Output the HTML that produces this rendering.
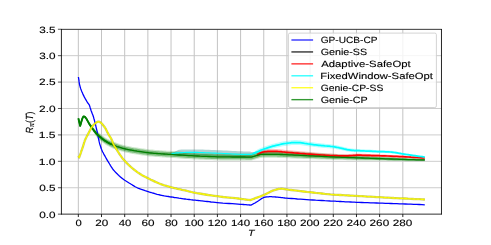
<!DOCTYPE html>
<html><head><meta charset="utf-8"><style>html,body{margin:0;padding:0;background:#fff}body{width:491px;height:245px;overflow:hidden}</style></head><body><svg width="491" height="245" viewBox="0 0 491 245" style="display:block">
<defs><filter id="gs" x="-5%" y="-5%" width="110%" height="110%" color-interpolation-filters="sRGB"><feColorMatrix type="saturate" values="0"/></filter></defs>
<rect width="491" height="245" fill="#fff"/>
<path d="M78.33 29.4 V214.15 M101.51 29.4 V214.15 M124.69 29.4 V214.15 M147.86 29.4 V214.15 M171.04 29.4 V214.15 M194.22 29.4 V214.15 M217.40 29.4 V214.15 M240.58 29.4 V214.15 M263.75 29.4 V214.15 M286.93 29.4 V214.15 M310.11 29.4 V214.15 M333.29 29.4 V214.15 M356.47 29.4 V214.15 M379.64 29.4 V214.15 M402.82 29.4 V214.15" stroke="#c3c3c3" stroke-width="1.0" fill="none"/>
<path d="M61.42 214.15 H441.47 M61.42 187.74 H441.47 M61.42 161.32 H441.47 M61.42 134.91 H441.47 M61.42 108.49 H441.47 M61.42 82.08 H441.47 M61.42 55.66 H441.47 M61.42 29.25 H441.47" stroke="#c6c6c6" stroke-width="0.9" fill="none"/>
<clipPath id="c"><rect x="61.42" y="29.4" width="380.05" height="184.75"/></clipPath>
<g clip-path="url(#c)" fill="none" stroke-linejoin="round" stroke-linecap="butt">
<polygon points="257.0,152.9 257.3,152.7 257.6,152.5 257.9,152.2 258.2,152.0 258.5,151.8 258.8,151.6 259.1,151.4 259.5,151.2 259.9,151.0 260.4,150.7 260.9,150.5 261.4,150.3 261.9,150.1 262.4,149.9 263.0,149.7 263.7,149.6 264.9,149.4 266.3,149.3 267.9,149.1 269.5,149.1 271.2,149.1 272.8,149.1 274.5,149.1 276.0,149.1 277.3,149.1 278.6,149.2 279.9,149.3 281.1,149.4 282.4,149.6 283.8,149.7 285.2,149.9 286.7,150.0 289.2,150.2 291.9,150.4 294.7,150.7 297.7,150.9 300.8,151.2 303.9,151.5 306.9,151.8 309.9,152.0 312.9,152.3 316.0,152.5 319.1,152.7 322.1,153.0 325.2,153.2 328.1,153.4 330.8,153.6 333.4,153.7 335.1,153.8 336.6,153.9 338.1,154.0 339.5,154.0 340.9,154.1 342.3,154.1 343.7,154.1 345.1,154.1 346.5,154.1 348.0,154.1 349.4,154.0 350.8,153.9 352.2,153.8 353.6,153.7 355.1,153.7 356.5,153.6 358.0,153.6 359.5,153.6 361.0,153.7 362.5,153.7 364.0,153.8 365.5,153.8 367.0,153.9 368.5,153.9 369.9,154.0 371.2,154.0 372.5,154.1 373.8,154.1 375.2,154.2 376.6,154.2 378.0,154.3 379.6,154.4 382.1,154.5 384.8,154.6 387.6,154.8 390.6,154.9 393.6,155.1 396.7,155.3 399.7,155.4 402.6,155.6 405.4,155.8 408.2,156.0 411.0,156.2 413.7,156.4 416.5,156.6 419.3,156.8 422.0,157.0 424.8,157.2 424.8,158.8 422.0,158.7 419.3,158.5 416.5,158.4 413.7,158.3 411.0,158.1 408.2,158.0 405.4,157.9 402.6,157.8 399.7,157.7 396.7,157.6 393.6,157.5 390.6,157.4 387.6,157.3 384.8,157.2 382.1,157.1 379.6,157.0 378.0,157.0 376.6,157.0 375.2,157.0 373.8,156.9 372.5,156.9 371.2,156.9 369.9,156.9 368.5,156.9 367.0,156.9 365.5,156.8 364.0,156.8 362.5,156.8 361.0,156.8 359.5,156.8 358.0,156.8 356.5,156.9 355.1,156.9 353.6,157.0 352.2,157.2 350.8,157.3 349.4,157.4 348.0,157.5 346.5,157.6 345.1,157.7 343.7,157.7 342.3,157.7 340.9,157.7 339.5,157.7 338.1,157.6 336.6,157.6 335.1,157.6 333.4,157.5 330.8,157.4 328.1,157.3 325.2,157.2 322.1,157.0 319.1,156.9 316.0,156.7 312.9,156.6 309.9,156.4 306.9,156.2 303.9,156.0 300.8,155.8 297.7,155.5 294.7,155.3 291.9,155.0 289.2,154.8 286.7,154.6 285.2,154.5 283.8,154.3 282.4,154.2 281.1,154.0 279.9,153.9 278.6,153.8 277.3,153.7 276.0,153.7 274.5,153.7 272.8,153.7 271.2,153.7 269.5,153.7 267.9,153.7 266.3,153.9 264.9,154.0 263.7,154.2 263.0,154.3 262.4,154.5 261.9,154.7 261.4,154.9 260.9,155.1 260.4,155.3 259.9,155.6 259.5,155.8 259.1,156.0 258.8,156.2 258.5,156.4 258.2,156.6 257.9,156.8 257.6,157.1 257.3,157.3 257.0,157.5" fill="#ff0000" fill-opacity="0.25" stroke="none"/>
<polygon points="171.4,153.4 171.8,153.2 172.3,153.0 172.7,152.8 173.1,152.6 173.5,152.3 174.0,152.1 174.5,151.9 175.0,151.6 175.9,151.2 176.8,150.7 177.8,150.3 178.9,149.8 180.0,149.7 181.1,149.6 182.3,149.6 183.4,149.5 184.7,149.5 185.9,149.4 187.2,149.4 188.6,149.4 189.9,149.4 191.3,149.4 192.8,149.4 194.4,149.4 196.9,149.4 199.6,149.5 202.5,149.6 205.5,149.7 208.6,149.8 211.7,150.0 214.7,150.1 217.7,150.2 220.6,150.3 223.6,150.5 226.6,150.6 229.6,150.8 232.6,151.0 235.4,151.1 238.1,151.2 240.5,151.3 242.0,151.3 243.5,151.4 244.8,151.4 246.1,151.4 247.4,151.4 248.7,151.4 250.0,151.4 251.3,152.0 252.8,152.0 254.4,152.0 255.9,151.9 255.9,152.8 254.4,154.2 252.8,155.5 251.3,156.8 250.0,157.4 248.7,157.4 247.4,157.4 246.1,157.4 244.8,157.4 243.5,157.4 242.0,157.3 240.5,157.3 238.1,157.2 235.4,157.1 232.6,157.0 229.6,156.8 226.6,156.6 223.6,156.5 220.6,156.3 217.7,156.2 214.7,156.1 211.7,156.0 208.6,155.8 205.5,155.7 202.5,155.6 199.6,155.5 196.9,155.4 194.4,155.4 192.8,155.4 191.3,155.4 189.9,155.4 188.6,155.4 187.2,155.4 185.9,155.4 184.7,155.5 183.4,155.5 182.3,155.6 181.1,155.6 180.0,155.7 178.9,155.7 177.8,155.4 176.8,155.1 175.9,154.8 175.0,154.6 174.5,154.5 174.0,154.3 173.5,154.2 173.1,154.1 172.7,154.0 172.3,153.9 171.8,153.9 171.4,153.8" fill="#308888" fill-opacity="0.38" stroke="none"/>
<polygon points="251.3,154.0 252.8,152.9 254.4,151.8 255.9,150.6 257.5,149.5 259.0,148.7 260.6,148.0 262.1,147.4 263.7,146.8 265.2,146.3 266.8,145.7 268.3,145.2 269.9,144.7 271.4,144.3 273.0,143.8 274.5,143.4 276.0,143.0 277.4,142.7 278.7,142.4 280.1,142.1 281.4,141.8 282.7,141.5 284.1,141.3 285.4,141.1 286.7,140.9 288.0,140.7 289.2,140.6 290.5,140.4 291.7,140.3 293.0,140.2 294.3,140.1 295.6,140.1 296.9,140.1 298.5,140.2 300.1,140.3 301.7,140.6 303.3,140.8 305.0,141.1 306.7,141.4 308.3,141.7 309.9,141.9 311.4,142.1 312.9,142.3 314.4,142.5 315.8,142.7 317.3,142.9 318.8,143.1 320.2,143.3 321.7,143.5 323.2,143.6 324.7,143.8 326.2,143.9 327.7,144.1 329.2,144.2 330.6,144.3 332.0,144.5 333.4,144.7 334.5,144.9 335.6,145.1 336.7,145.3 337.7,145.6 338.7,145.8 339.7,146.1 340.8,146.3 341.8,146.5 342.9,146.8 343.9,147.0 345.0,147.3 346.1,147.5 347.1,147.7 348.2,148.0 349.2,148.2 350.2,148.3 351.0,148.4 351.8,148.5 352.5,148.6 353.3,148.7 354.0,148.7 354.8,148.8 355.6,148.8 356.5,148.9 357.8,149.0 359.2,149.1 360.7,149.2 362.3,149.2 363.9,149.3 365.4,149.4 367.0,149.5 368.5,149.6 369.9,149.6 371.3,149.7 372.7,149.8 374.0,149.9 375.4,150.0 376.8,150.0 378.2,150.1 379.6,150.2 381.1,150.3 382.6,150.3 384.1,150.4 385.7,150.4 387.2,150.5 388.7,150.6 390.2,150.7 391.7,150.8 393.1,151.0 394.5,151.2 395.8,151.5 397.2,151.7 398.5,152.0 399.9,152.3 401.2,152.5 402.6,152.8 404.0,153.0 405.3,153.2 406.7,153.4 408.0,153.7 409.4,153.9 410.8,154.1 412.1,154.3 413.5,154.5 414.9,154.7 416.3,155.0 417.7,155.2 419.1,155.4 420.6,155.6 422.0,155.8 423.4,156.0 424.8,156.3 424.8,157.9 423.4,157.8 422.0,157.6 420.6,157.4 419.1,157.2 417.7,157.0 416.3,156.9 414.9,156.7 413.5,156.5 412.1,156.3 410.8,156.1 409.4,155.9 408.0,155.8 406.7,155.6 405.3,155.4 404.0,155.2 402.6,155.0 401.2,154.8 399.9,154.6 398.5,154.4 397.2,154.1 395.8,153.9 394.5,153.7 393.1,153.5 391.7,153.4 390.2,153.2 388.7,153.2 387.2,153.1 385.7,153.1 384.1,153.1 382.6,153.1 381.1,153.0 379.6,153.0 378.2,153.0 376.8,152.9 375.4,152.9 374.0,152.8 372.7,152.8 371.3,152.7 369.9,152.7 368.5,152.6 367.0,152.6 365.4,152.6 363.9,152.5 362.3,152.5 360.7,152.4 359.2,152.4 357.8,152.4 356.5,152.3 355.6,152.3 354.8,152.2 354.0,152.2 353.3,152.1 352.5,152.1 351.8,152.0 351.0,152.0 350.2,151.9 349.2,151.7 348.2,151.6 347.1,151.4 346.1,151.2 345.0,150.9 343.9,150.7 342.9,150.5 341.8,150.3 340.8,150.1 339.7,149.9 338.7,149.6 337.7,149.4 336.7,149.2 335.6,149.0 334.5,148.8 333.4,148.7 332.0,148.5 330.6,148.4 329.2,148.3 327.7,148.2 326.2,148.1 324.7,148.0 323.2,147.9 321.7,147.7 320.2,147.6 318.8,147.4 317.3,147.3 315.8,147.1 314.4,147.0 312.9,146.8 311.4,146.6 309.9,146.5 308.3,146.3 306.7,146.0 305.0,145.8 303.3,145.6 301.7,145.3 300.1,145.1 298.5,145.0 296.9,144.9 295.6,144.9 294.3,144.9 293.0,145.0 291.7,145.1 290.5,145.2 289.2,145.4 288.0,145.5 286.7,145.7 285.4,145.9 284.1,146.1 282.7,146.3 281.4,146.6 280.1,146.9 278.7,147.2 277.4,147.5 276.0,147.8 274.5,148.2 273.0,148.6 271.4,149.1 269.9,149.5 268.3,150.0 266.8,150.5 265.2,151.1 263.7,151.6 262.1,152.2 260.6,152.8 259.0,153.5 257.5,154.0 255.9,154.2 254.4,154.4 252.8,154.6 251.3,154.8" fill="#00ffff" fill-opacity="0.28" stroke="none"/>
<polygon points="78.4,118.2 80.1,125.7 80.6,124.4 81.0,122.9 81.4,121.4 81.9,119.8 82.3,118.5 82.8,117.3 83.3,116.5 83.9,116.2 84.6,116.3 85.3,116.8 86.1,117.6 86.9,118.7 87.7,120.0 88.5,121.3 89.3,122.5 90.1,123.5 90.8,124.3 91.6,125.2 92.3,126.1 93.1,127.0 93.8,127.8 94.6,128.6 95.3,129.4 96.0,130.1 96.5,130.5 97.1,131.0 97.6,131.4 98.2,131.8 98.7,132.3 99.2,132.8 99.8,133.2 100.3,133.7 100.8,134.1 101.4,134.6 101.9,135.0 102.4,135.4 103.0,135.8 103.5,136.2 104.0,136.6 104.6,137.0 105.1,137.4 105.7,137.7 106.2,138.0 106.8,138.4 107.3,138.7 107.9,139.0 108.4,139.3 109.0,139.6 109.5,139.9 110.0,140.1 110.5,140.4 111.1,140.6 111.6,140.9 112.1,141.1 112.6,141.4 113.2,141.6 113.8,141.9 114.5,142.1 115.1,142.3 115.8,142.6 116.5,142.8 117.1,143.1 117.8,143.3 118.5,143.5 119.2,143.7 119.9,144.0 120.7,144.2 121.4,144.4 122.1,144.6 122.8,144.8 123.6,145.0 124.3,145.2 125.0,145.4 125.7,145.5 126.4,145.7 127.1,145.8 127.8,146.0 128.5,146.1 129.3,146.3 130.0,146.4 130.8,146.6 131.7,146.7 132.5,146.9 133.4,147.0 134.2,147.2 135.1,147.3 136.0,147.4 137.0,147.6 138.3,147.8 139.6,148.0 140.9,148.2 142.3,148.4 143.7,148.6 145.2,148.8 146.6,149.0 148.0,149.2 149.5,149.4 151.0,149.5 152.5,149.6 154.0,149.8 155.5,149.9 157.0,150.0 158.5,150.1 160.0,150.2 161.4,150.3 162.8,150.4 164.1,150.5 165.5,150.6 166.8,150.7 168.3,150.8 169.8,150.8 171.4,150.9 173.9,151.1 176.6,151.3 179.4,151.5 182.4,151.7 185.4,151.9 188.5,152.1 191.5,152.2 194.4,152.4 197.3,152.5 200.2,152.7 203.1,152.8 206.1,152.9 209.0,153.0 211.9,153.1 214.8,153.2 217.7,153.3 220.6,153.4 223.6,153.4 226.6,153.4 229.6,153.4 232.6,153.5 235.4,153.5 238.1,153.5 240.5,153.5 242.0,153.5 243.5,153.5 244.8,153.5 246.1,153.6 247.4,153.6 248.7,153.6 250.0,153.6 251.3,153.6 260.5,150.9 260.9,150.9 261.3,150.9 261.6,150.9 262.0,150.8 262.4,150.8 262.8,150.8 263.2,150.8 263.7,150.8 264.8,150.8 266.0,150.8 267.4,150.8 268.9,150.8 270.4,150.8 272.0,150.8 273.5,150.8 275.0,150.8 276.4,150.8 277.8,150.9 279.2,150.9 280.6,151.0 282.0,151.0 283.5,151.1 285.0,151.1 286.7,151.2 289.2,151.3 291.9,151.4 294.8,151.6 297.8,151.7 300.8,151.9 303.9,152.1 306.9,152.3 309.9,152.5 312.8,152.7 315.8,152.9 318.7,153.1 321.7,153.3 324.6,153.5 327.5,153.7 330.5,153.8 333.4,154.0 336.3,154.2 339.2,154.4 342.1,154.5 345.0,154.7 347.8,154.8 350.7,155.0 353.6,155.1 356.5,155.3 359.4,155.4 362.3,155.6 365.2,155.7 368.1,155.8 370.9,156.0 373.8,156.1 376.7,156.3 379.6,156.4 382.5,156.6 385.4,156.7 388.2,156.9 391.1,157.1 394.0,157.2 396.9,157.4 399.7,157.5 402.6,157.7 405.4,157.8 408.2,157.9 411.0,158.0 413.7,158.1 416.5,158.3 419.3,158.4 422.0,158.5 424.8,158.6 424.8,161.3 422.0,161.3 419.3,161.3 416.5,161.3 413.7,161.2 411.0,161.2 408.2,161.2 405.4,161.2 402.6,161.1 399.7,161.1 396.9,161.0 394.0,161.0 391.1,160.9 388.2,160.9 385.4,160.8 382.5,160.7 379.6,160.7 376.7,160.6 373.8,160.6 370.9,160.5 368.1,160.5 365.2,160.5 362.3,160.4 359.4,160.4 356.5,160.3 353.6,160.3 350.7,160.2 347.8,160.2 345.0,160.1 342.1,160.1 339.2,160.0 336.3,159.9 333.4,159.9 330.5,159.8 327.5,159.7 324.6,159.6 321.7,159.5 318.7,159.4 315.8,159.3 312.8,159.2 309.9,159.1 306.9,159.0 303.9,158.9 300.8,158.8 297.8,158.7 294.8,158.6 291.9,158.4 289.2,158.3 286.7,158.2 285.0,158.1 283.5,158.1 282.0,158.0 280.6,158.0 279.2,157.9 277.8,157.9 276.4,157.8 275.0,157.8 273.5,157.8 272.0,157.8 270.4,157.8 268.9,157.8 267.4,157.8 266.0,157.8 264.8,157.8 263.7,157.8 263.2,157.8 262.8,157.8 262.4,157.8 262.0,157.8 261.6,157.9 261.3,157.9 260.9,157.9 260.5,157.9 251.3,160.6 250.0,160.6 248.7,160.6 247.4,160.6 246.1,160.6 244.8,160.5 243.5,160.5 242.0,160.5 240.5,160.5 238.1,160.5 235.4,160.5 232.6,160.5 229.6,160.4 226.6,160.4 223.6,160.4 220.6,160.4 217.7,160.3 214.8,160.2 211.9,160.1 209.0,160.0 206.1,159.9 203.1,159.8 200.2,159.7 197.3,159.5 194.4,159.4 191.5,159.2 188.5,159.1 185.4,158.9 182.4,158.7 179.4,158.5 176.6,158.3 173.9,158.1 171.4,157.9 169.8,157.8 168.3,157.8 166.8,157.7 165.5,157.6 164.1,157.5 162.8,157.4 161.4,157.3 160.0,157.2 158.5,157.1 157.0,157.0 155.5,156.9 154.0,156.8 152.5,156.6 151.0,156.5 149.5,156.4 148.0,156.2 146.6,156.0 145.2,155.8 143.7,155.6 142.3,155.4 140.9,155.2 139.6,155.0 138.3,154.8 137.0,154.6 136.0,154.4 135.1,154.3 134.2,154.2 133.4,154.0 132.5,153.9 131.7,153.7 130.8,153.6 130.0,153.4 129.3,153.3 128.5,153.1 127.8,153.0 127.1,152.8 126.4,152.7 125.7,152.5 125.0,152.4 124.3,152.2 123.6,152.0 122.8,151.8 122.1,151.6 121.4,151.4 120.7,151.2 119.9,151.0 119.2,150.7 118.5,150.5 117.8,150.3 117.1,150.1 116.5,149.8 115.8,149.6 115.1,149.3 114.5,149.1 113.8,148.9 113.2,148.6 112.6,148.4 112.1,148.1 111.6,147.9 111.1,147.6 110.5,147.4 110.0,147.1 109.5,146.9 109.0,146.6 108.4,146.3 107.9,146.0 107.3,145.7 106.8,145.4 106.2,145.0 105.7,144.7 105.1,144.4 104.6,144.0 104.0,143.6 103.5,143.2 103.0,142.8 102.4,142.4 101.9,142.0 101.4,141.6 100.8,141.1 100.3,140.7 99.8,140.2 99.2,139.8 98.7,139.3 98.2,138.8 97.6,138.2 97.1,137.6 96.5,136.9 96.0,136.1 95.3,135.1 94.6,134.0 93.8,132.9 93.1,131.7 92.3,130.4 91.6,129.2 90.8,128.0 90.1,126.7 89.3,125.4 88.5,123.8 87.7,122.1 86.9,120.5 86.1,119.0 85.3,117.8 84.6,116.9 83.9,116.6 83.3,116.9 82.8,117.7 82.3,118.9 81.9,120.2 81.4,121.8 81.0,123.3 80.6,124.8 80.1,126.1 78.4,118.6" fill="#008000" fill-opacity="0.2" stroke="none"/>
<polygon points="78.4,118.2 80.1,125.7 80.6,124.4 81.0,122.9 81.4,121.4 81.9,119.8 82.3,118.5 82.8,117.3 83.3,116.5 83.9,116.2 84.6,116.3 85.3,116.9 86.1,117.8 86.9,119.0 87.7,120.3 88.5,121.6 89.3,122.9 90.1,124.0 90.8,124.9 91.6,125.9 92.3,126.8 93.1,127.8 93.8,128.7 94.6,129.5 95.3,130.4 96.0,131.1 96.5,131.6 97.1,132.1 97.6,132.6 98.2,133.0 98.7,133.5 99.2,134.0 99.8,134.4 100.3,134.9 100.8,135.3 101.4,135.8 101.9,136.2 102.4,136.6 103.0,137.0 103.5,137.4 104.0,137.8 104.6,138.2 105.1,138.6 105.7,138.9 106.2,139.2 106.8,139.6 107.3,139.9 107.9,140.2 108.4,140.5 109.0,140.8 109.5,141.1 110.0,141.3 110.5,141.6 111.1,141.8 111.6,142.1 112.1,142.3 112.6,142.6 113.2,142.8 113.8,143.1 114.5,143.3 115.1,143.5 115.8,143.8 116.5,144.0 117.1,144.3 117.8,144.5 118.5,144.7 119.2,144.9 119.9,145.2 120.7,145.4 121.4,145.6 122.1,145.8 122.8,146.0 123.6,146.2 124.3,146.4 125.0,146.6 125.7,146.7 126.4,146.9 127.1,147.0 127.8,147.2 128.5,147.3 129.3,147.5 130.0,147.6 130.8,147.8 131.7,147.9 132.5,148.1 133.4,148.2 134.2,148.4 135.1,148.5 136.0,148.6 137.0,148.8 138.3,149.0 139.6,149.2 140.9,149.4 142.3,149.6 143.7,149.8 145.2,150.0 146.6,150.2 148.0,150.4 149.5,150.6 151.0,150.7 152.5,150.8 154.0,151.0 155.5,151.1 157.0,151.2 158.5,151.3 160.0,151.4 161.4,151.5 162.8,151.6 164.1,151.7 165.5,151.8 166.8,151.9 168.3,152.0 169.8,152.0 171.4,152.1 173.9,152.3 176.6,152.5 179.4,152.7 182.4,152.9 185.4,153.1 188.5,153.3 191.5,153.4 194.4,153.6 197.3,153.7 200.2,153.9 203.1,154.0 206.1,154.1 209.0,154.2 211.9,154.3 214.8,154.4 217.7,154.5 220.6,154.6 223.6,154.6 226.6,154.6 229.6,154.6 232.6,154.7 235.4,154.7 238.1,154.7 240.5,154.7 242.0,154.7 243.5,154.7 244.8,154.7 246.1,154.8 247.4,154.8 248.7,154.8 250.0,154.8 251.3,154.8 260.5,152.1 260.9,152.1 261.3,152.1 261.6,152.1 262.0,152.0 262.4,152.0 262.8,152.0 263.2,152.0 263.7,152.0 264.8,152.0 266.0,152.0 267.4,152.0 268.9,152.0 270.4,152.0 272.0,152.0 273.5,152.0 275.0,152.0 276.4,152.0 277.8,152.1 279.2,152.1 280.6,152.2 282.0,152.2 283.5,152.3 285.0,152.3 286.7,152.4 289.2,152.5 291.9,152.6 294.8,152.8 297.8,152.9 300.8,153.1 303.9,153.2 306.9,153.4 309.9,153.6 312.8,153.8 315.8,154.0 318.7,154.1 321.7,154.3 324.6,154.5 327.5,154.7 330.5,154.9 333.4,155.0 336.3,155.2 339.2,155.3 342.1,155.5 345.0,155.6 347.8,155.7 350.7,155.9 353.6,156.0 356.5,156.1 359.4,156.2 362.3,156.4 365.2,156.5 368.1,156.6 370.9,156.7 373.8,156.9 376.7,157.0 379.6,157.1 382.5,157.3 385.4,157.4 388.2,157.5 391.1,157.7 394.0,157.8 396.9,158.0 399.7,158.1 402.6,158.2 405.4,158.3 408.2,158.4 411.0,158.5 413.7,158.6 416.5,158.7 419.3,158.8 422.0,158.9 424.8,159.0 424.8,160.9 422.0,160.9 419.3,160.8 416.5,160.8 413.7,160.8 411.0,160.7 408.2,160.7 405.4,160.6 402.6,160.6 399.7,160.5 396.9,160.4 394.0,160.4 391.1,160.3 388.2,160.2 385.4,160.1 382.5,160.1 379.6,160.0 376.7,159.9 373.8,159.9 370.9,159.8 368.1,159.7 365.2,159.7 362.3,159.6 359.4,159.5 356.5,159.5 353.6,159.4 350.7,159.3 347.8,159.3 345.0,159.2 342.1,159.1 339.2,159.1 336.3,159.0 333.4,158.9 330.5,158.8 327.5,158.7 324.6,158.6 321.7,158.5 318.7,158.3 315.8,158.2 312.8,158.1 309.9,158.0 306.9,157.9 303.9,157.8 300.8,157.6 297.8,157.5 294.8,157.4 291.9,157.2 289.2,157.1 286.7,157.0 285.0,156.9 283.5,156.9 282.0,156.8 280.6,156.8 279.2,156.7 277.8,156.7 276.4,156.6 275.0,156.6 273.5,156.6 272.0,156.6 270.4,156.6 268.9,156.6 267.4,156.6 266.0,156.6 264.8,156.6 263.7,156.6 263.2,156.6 262.8,156.6 262.4,156.6 262.0,156.6 261.6,156.7 261.3,156.7 260.9,156.7 260.5,156.7 251.3,159.4 250.0,159.4 248.7,159.4 247.4,159.4 246.1,159.4 244.8,159.3 243.5,159.3 242.0,159.3 240.5,159.3 238.1,159.3 235.4,159.3 232.6,159.3 229.6,159.2 226.6,159.2 223.6,159.2 220.6,159.2 217.7,159.1 214.8,159.0 211.9,158.9 209.0,158.8 206.1,158.7 203.1,158.6 200.2,158.5 197.3,158.3 194.4,158.2 191.5,158.0 188.5,157.9 185.4,157.7 182.4,157.5 179.4,157.3 176.6,157.1 173.9,156.9 171.4,156.8 169.8,156.6 168.3,156.6 166.8,156.5 165.5,156.4 164.1,156.3 162.8,156.2 161.4,156.1 160.0,156.0 158.5,155.9 157.0,155.8 155.5,155.7 154.0,155.6 152.5,155.4 151.0,155.3 149.5,155.2 148.0,155.0 146.6,154.8 145.2,154.6 143.7,154.4 142.3,154.2 140.9,154.0 139.6,153.8 138.3,153.6 137.0,153.4 136.0,153.2 135.1,153.1 134.2,153.0 133.4,152.8 132.5,152.7 131.7,152.5 130.8,152.4 130.0,152.2 129.3,152.1 128.5,151.9 127.8,151.8 127.1,151.6 126.4,151.5 125.7,151.3 125.0,151.2 124.3,151.0 123.6,150.8 122.8,150.6 122.1,150.4 121.4,150.2 120.7,150.0 119.9,149.8 119.2,149.5 118.5,149.3 117.8,149.1 117.1,148.9 116.5,148.6 115.8,148.4 115.1,148.1 114.5,147.9 113.8,147.7 113.2,147.4 112.6,147.2 112.1,146.9 111.6,146.7 111.1,146.4 110.5,146.2 110.0,145.9 109.5,145.7 109.0,145.4 108.4,145.1 107.9,144.8 107.3,144.5 106.8,144.2 106.2,143.8 105.7,143.5 105.1,143.2 104.6,142.8 104.0,142.4 103.5,142.0 103.0,141.6 102.4,141.2 101.9,140.8 101.4,140.4 100.8,139.9 100.3,139.5 99.8,139.0 99.2,138.6 98.7,138.1 98.2,137.6 97.6,137.0 97.1,136.4 96.5,135.8 96.0,135.1 95.3,134.1 94.6,133.1 93.8,132.0 93.1,130.9 92.3,129.7 91.6,128.5 90.8,127.4 90.1,126.2 89.3,124.9 88.5,123.4 87.7,121.8 86.9,120.2 86.1,118.8 85.3,117.7 84.6,116.9 83.9,116.6 83.3,116.9 82.8,117.7 82.3,118.9 81.9,120.2 81.4,121.8 81.0,123.3 80.6,124.8 80.1,126.1 78.4,118.6" fill="#008000" fill-opacity="0.4" stroke="none"/>
<polyline points="78.4,77.0 78.6,78.2 78.8,79.4 79.0,80.7 79.1,81.9 79.3,83.1 79.5,84.3 79.8,85.5 80.1,86.7 80.4,87.8 80.8,88.9 81.2,89.9 81.6,91.0 82.0,92.0 82.5,93.1 82.9,94.1 83.4,95.1 83.9,96.1 84.4,97.1 85.0,98.2 85.5,99.2 86.1,100.1 86.6,101.0 87.1,101.9 87.6,102.6 87.8,103.0 88.1,103.3 88.3,103.6 88.5,103.8 88.7,104.1 88.9,104.4 89.1,104.7 89.3,105.0 89.5,105.5 89.7,106.1 89.9,106.7 90.1,107.4 90.3,108.0 90.5,108.7 90.7,109.4 90.9,110.1 91.2,110.9 91.5,111.6 91.8,112.4 92.1,113.2 92.4,114.0 92.8,114.9 93.1,115.8 93.4,116.7 93.8,118.2 94.3,119.8 94.7,121.5 95.2,123.2 95.6,125.0 96.0,126.8 96.4,128.5 96.8,130.1 97.1,131.4 97.4,132.8 97.6,134.1 97.9,135.3 98.1,136.6 98.3,137.8 98.6,138.9 98.8,140.0 99.0,140.7 99.1,141.4 99.3,142.0 99.4,142.7 99.6,143.3 99.7,143.9 99.9,144.5 100.1,145.1 100.3,145.7 100.5,146.3 100.7,146.9 100.8,147.5 101.0,148.1 101.3,148.7 101.5,149.3 101.8,150.0 102.2,150.9 102.7,152.0 103.3,153.0 103.8,154.1 104.4,155.2 105.0,156.2 105.6,157.3 106.1,158.2 106.5,158.9 106.9,159.6 107.2,160.2 107.6,160.8 108.0,161.4 108.4,162.0 108.7,162.7 109.2,163.3 109.6,164.0 110.1,164.8 110.5,165.6 111.0,166.3 111.5,167.1 112.0,167.8 112.5,168.6 113.0,169.3 113.5,170.0 114.1,170.6 114.7,171.3 115.2,171.9 115.8,172.6 116.5,173.2 117.1,173.8 117.7,174.4 118.4,175.0 119.0,175.7 119.7,176.3 120.4,176.9 121.1,177.5 121.8,178.1 122.6,178.6 123.3,179.2 124.0,179.7 124.8,180.3 125.6,180.8 126.3,181.2 127.1,181.7 127.9,182.2 128.7,182.7 129.5,183.2 130.4,183.7 131.2,184.3 132.1,184.8 132.9,185.4 133.8,185.9 134.7,186.5 135.7,187.0 136.7,187.5 138.0,188.1 139.3,188.6 140.7,189.2 142.2,189.7 143.7,190.2 145.1,190.7 146.6,191.1 148.1,191.6 149.6,192.1 151.1,192.5 152.6,193.0 154.1,193.4 155.6,193.9 157.1,194.3 158.6,194.6 160.1,195.0 161.5,195.3 162.9,195.6 164.3,195.9 165.7,196.1 167.1,196.3 168.5,196.5 169.9,196.8 171.3,197.0 172.8,197.2 174.3,197.5 175.9,197.7 177.4,197.9 178.9,198.2 180.5,198.4 182.0,198.6 183.5,198.8 184.9,199.0 186.3,199.2 187.7,199.3 189.1,199.5 190.5,199.7 191.8,199.8 193.1,200.0 194.4,200.1 195.4,200.2 196.3,200.3 197.2,200.4 198.1,200.5 199.0,200.6 199.9,200.7 200.9,200.8 202.0,200.9 203.6,201.1 205.4,201.3 207.2,201.5 209.1,201.7 211.0,202.0 213.0,202.2 215.1,202.4 217.2,202.6 219.9,202.8 222.9,203.1 226.0,203.3 229.1,203.5 232.2,203.7 235.2,203.9 238.0,204.1 240.5,204.3 242.0,204.4 243.4,204.5 244.7,204.6 246.0,204.7 247.2,204.8 248.5,204.9 249.7,205.0 251.0,205.1 251.7,204.7 252.5,204.3 253.2,203.9 253.9,203.5 254.7,203.1 255.4,202.7 256.1,202.2 256.9,201.8 257.7,201.3 258.6,200.7 259.4,200.1 260.3,199.5 261.1,198.9 262.0,198.4 262.8,198.0 263.6,197.6 264.2,197.4 264.8,197.2 265.4,197.1 266.0,197.0 266.6,196.9 267.2,196.8 267.8,196.8 268.5,196.8 269.4,196.7 270.4,196.7 271.4,196.7 272.4,196.8 273.5,196.9 274.6,196.9 275.6,197.0 276.7,197.1 277.8,197.2 279.0,197.3 280.1,197.4 281.2,197.6 282.4,197.7 283.7,197.8 285.0,198.0 286.4,198.1 288.8,198.3 291.5,198.5 294.4,198.7 297.4,199.0 300.5,199.2 303.6,199.4 306.7,199.6 309.7,199.8 312.7,200.0 315.7,200.2 318.8,200.3 321.8,200.5 324.8,200.7 327.7,200.8 330.3,201.0 332.7,201.1 334.0,201.2 335.3,201.2 336.4,201.3 337.5,201.4 338.5,201.4 339.6,201.5 340.8,201.5 342.0,201.6 343.6,201.7 345.3,201.8 347.0,201.9 348.8,201.9 350.6,202.0 352.5,202.1 354.4,202.2 356.4,202.3 359.0,202.4 361.8,202.5 364.7,202.6 367.6,202.7 370.6,202.8 373.6,202.9 376.6,203.0 379.5,203.1 382.4,203.2 385.3,203.3 388.1,203.4 391.0,203.5 393.9,203.6 396.8,203.7 399.6,203.8 402.5,203.9 405.3,204.0 408.1,204.1 410.9,204.2 413.7,204.3 416.5,204.4 419.2,204.5 422.0,204.6 424.8,204.8" stroke="#0000ff" stroke-width="1.3"/>
<polyline points="78.4,118.4 80.1,125.9 80.6,124.6 81.0,123.1 81.4,121.6 81.9,120.0 82.3,118.7 82.8,117.5 83.3,116.7 83.9,116.4 84.6,116.6 85.3,117.3 86.1,118.3 86.9,119.6 87.7,121.1 88.5,122.5 89.3,123.9 90.1,125.1 90.8,126.1 91.6,127.2 92.3,128.3 93.1,129.3 93.8,130.3 94.6,131.3 95.3,132.2 96.0,133.1 96.5,133.7 97.1,134.3 97.6,134.8 98.2,135.3 98.7,135.8 99.2,136.3 99.8,136.7 100.3,137.2 100.8,137.6 101.4,138.1 101.9,138.5 102.4,138.9 103.0,139.3 103.5,139.7 104.0,140.1 104.6,140.5 105.1,140.9 105.7,141.2 106.2,141.5 106.8,141.9 107.3,142.2 107.9,142.5 108.4,142.8 109.0,143.1 109.5,143.4 110.0,143.6 110.5,143.9 111.1,144.1 111.6,144.4 112.1,144.6 112.6,144.9 113.2,145.1 113.8,145.4 114.5,145.6 115.1,145.8 115.8,146.1 116.5,146.3 117.1,146.6 117.8,146.8 118.5,147.0 119.2,147.2 119.9,147.5 120.7,147.7 121.4,147.9 122.1,148.1 122.8,148.3 123.6,148.5 124.3,148.7 125.0,148.9 125.7,149.0 126.4,149.2 127.1,149.3 127.8,149.5 128.5,149.6 129.3,149.8 130.0,149.9 130.8,150.1 131.7,150.2 132.5,150.4 133.4,150.5 134.2,150.7 135.1,150.8 136.0,150.9 137.0,151.1 138.3,151.3 139.6,151.5 140.9,151.7 142.3,151.9 143.7,152.1 145.2,152.3 146.6,152.5 148.0,152.7 149.5,152.9 151.0,153.0 152.5,153.1 154.0,153.3 155.5,153.4 157.0,153.5 158.5,153.6 160.0,153.7 161.4,153.8 162.8,153.9 164.1,154.0 165.5,154.1 166.8,154.2 168.3,154.3 169.8,154.3 171.4,154.4 173.9,154.6 176.6,154.8 179.4,155.0 182.4,155.2 185.4,155.4 188.5,155.6 191.5,155.7 194.4,155.9 197.3,156.0 200.2,156.2 203.1,156.3 206.1,156.4 209.0,156.5 211.9,156.6 214.8,156.7 217.7,156.8 220.6,156.9 223.6,156.9 226.6,156.9 229.6,156.9 232.6,157.0 235.4,157.0 238.1,157.0 240.5,157.0 242.0,157.0 243.5,157.0 244.8,157.0 246.1,157.1 247.4,157.1 248.7,157.1 250.0,157.1 251.3,157.1 260.5,154.4 260.9,154.4 261.3,154.4 261.6,154.4 262.0,154.3 262.4,154.3 262.8,154.3 263.2,154.3 263.7,154.3 264.8,154.3 266.0,154.3 267.4,154.3 268.9,154.3 270.4,154.3 272.0,154.3 273.5,154.3 275.0,154.3 276.4,154.3 277.8,154.4 279.2,154.4 280.6,154.5 282.0,154.5 283.5,154.6 285.0,154.6 286.7,154.7 289.2,154.8 291.9,154.9 294.8,155.1 297.8,155.2 300.8,155.4 303.9,155.5 306.9,155.7 309.9,155.8 312.8,155.9 315.8,156.1 318.7,156.2 321.7,156.4 324.6,156.5 327.5,156.7 330.5,156.8 333.4,156.9 336.3,157.1 339.2,157.2 342.1,157.3 345.0,157.4 347.8,157.5 350.7,157.6 353.6,157.7 356.5,157.8 359.4,157.9 362.3,158.0 365.2,158.1 368.1,158.2 370.9,158.3 373.8,158.4 376.7,158.5 379.6,158.6 382.5,158.7 385.4,158.8 388.2,158.9 391.1,159.0 394.0,159.1 396.9,159.2 399.7,159.3 402.6,159.4 405.4,159.5 408.2,159.6 411.0,159.6 413.7,159.7 416.5,159.8 419.3,159.8 422.0,159.9 424.8,159.9" stroke="#000" stroke-width="0.6" stroke-opacity="0.5"/>
<polyline points="257.0,155.2 257.3,155.0 257.6,154.8 257.9,154.5 258.2,154.3 258.5,154.1 258.8,153.9 259.1,153.7 259.5,153.5 259.9,153.3 260.4,153.0 260.9,152.8 261.4,152.6 261.9,152.4 262.4,152.2 263.0,152.0 263.7,151.9 264.9,151.7 266.3,151.6 267.9,151.4 269.5,151.4 271.2,151.4 272.8,151.4 274.5,151.4 276.0,151.4 277.3,151.4 278.6,151.5 279.9,151.6 281.1,151.7 282.4,151.9 283.8,152.0 285.2,152.2 286.7,152.3 289.2,152.5 291.9,152.7 294.7,153.0 297.7,153.2 300.8,153.5 303.9,153.7 306.9,154.0 309.9,154.2 312.9,154.4 316.0,154.6 319.1,154.8 322.1,155.0 325.2,155.2 328.1,155.3 330.8,155.5 333.4,155.6 335.1,155.7 336.6,155.7 338.1,155.8 339.5,155.8 340.9,155.9 342.3,155.9 343.7,155.9 345.1,155.9 346.5,155.9 348.0,155.8 349.4,155.7 350.8,155.6 352.2,155.5 353.6,155.4 355.1,155.3 356.5,155.2 358.0,155.2 359.5,155.2 361.0,155.2 362.5,155.3 364.0,155.3 365.5,155.3 367.0,155.4 368.5,155.4 369.9,155.4 371.2,155.5 372.5,155.5 373.8,155.5 375.2,155.6 376.6,155.6 378.0,155.6 379.6,155.7 382.1,155.8 384.8,155.9 387.6,156.0 390.6,156.1 393.6,156.3 396.7,156.4 399.7,156.6 402.6,156.7 405.4,156.8 408.2,157.0 411.0,157.2 413.7,157.3 416.5,157.5 419.3,157.7 422.0,157.8 424.8,158.0" stroke="#ff0000" stroke-width="1.75"/>
<polyline points="171.4,153.6 171.8,153.5 172.3,153.5 172.7,153.4 173.1,153.3 173.5,153.3 174.0,153.2 174.5,153.2 175.0,153.1 175.9,153.0 176.8,152.9 177.8,152.8 178.9,152.8 180.0,152.7 181.1,152.6 182.3,152.6 183.4,152.5 184.7,152.5 185.9,152.4 187.2,152.4 188.6,152.4 189.9,152.4 191.3,152.4 192.8,152.4 194.4,152.4 196.9,152.4 199.6,152.5 202.5,152.6 205.5,152.7 208.6,152.8 211.7,153.0 214.7,153.1 217.7,153.2 220.6,153.3 223.6,153.5 226.6,153.6 229.6,153.8 232.6,154.0 235.4,154.1 238.1,154.2 240.5,154.3 242.0,154.3 243.5,154.4 244.8,154.4 246.1,154.4 247.4,154.4 248.7,154.4 250.0,154.4 251.3,154.4 252.8,153.7 254.4,153.1 255.9,152.4" stroke="#00ffff" stroke-width="1.15"/>
<polyline points="252.8,153.7 254.4,153.1 255.9,152.4 257.5,151.7 259.0,151.1 260.6,150.4 262.1,149.8 263.7,149.2 265.2,148.7 266.8,148.1 268.3,147.6 269.9,147.1 271.4,146.7 273.0,146.2 274.5,145.8 276.0,145.4 277.4,145.1 278.7,144.8 280.1,144.5 281.4,144.2 282.7,143.9 284.1,143.7 285.4,143.5 286.7,143.3 288.0,143.1 289.2,143.0 290.5,142.8 291.7,142.7 293.0,142.6 294.3,142.5 295.6,142.5 296.9,142.5 298.5,142.6 300.1,142.7 301.7,142.9 303.3,143.2 305.0,143.5 306.7,143.7 308.3,144.0 309.9,144.2 311.4,144.4 312.9,144.6 314.4,144.8 315.8,144.9 317.3,145.1 318.8,145.3 320.2,145.4 321.7,145.6 323.2,145.7 324.7,145.9 326.2,146.0 327.7,146.1 329.2,146.2 330.6,146.4 332.0,146.5 333.4,146.7 334.5,146.9 335.6,147.1 336.7,147.3 337.7,147.5 338.7,147.7 339.7,148.0 340.8,148.2 341.8,148.4 342.9,148.6 343.9,148.9 345.0,149.1 346.1,149.3 347.1,149.6 348.2,149.8 349.2,149.9 350.2,150.1 351.0,150.2 351.8,150.3 352.5,150.4 353.3,150.4 354.0,150.5 354.8,150.5 355.6,150.5 356.5,150.6 357.8,150.7 359.2,150.7 360.7,150.8 362.3,150.9 363.9,150.9 365.4,151.0 367.0,151.0 368.5,151.1 369.9,151.2 371.3,151.2 372.7,151.3 374.0,151.4 375.4,151.4 376.8,151.5 378.2,151.5 379.6,151.6 381.1,151.7 382.6,151.7 384.1,151.7 385.7,151.8 387.2,151.8 388.7,151.9 390.2,152.0 391.7,152.1 393.1,152.3 394.5,152.5 395.8,152.7 397.2,152.9 398.5,153.2 399.9,153.4 401.2,153.7 402.6,153.9 404.0,154.1 405.3,154.3 406.7,154.5 408.0,154.7 409.4,154.9 410.8,155.1 412.1,155.3 413.5,155.5 414.9,155.7 416.3,155.9 417.7,156.1 419.1,156.3 420.6,156.5 422.0,156.7 423.4,156.9 424.8,157.1" stroke="#00ffff" stroke-width="1.75"/>
<polyline points="78.4,118.4 80.1,125.9 80.6,124.6 81.0,123.1 81.4,121.6 81.9,120.0 82.3,118.7 82.8,117.5 83.3,116.7 83.9,116.4 84.6,116.6 85.3,117.3 86.1,118.3 86.9,119.6 87.7,121.1 88.5,122.5 89.3,123.9 90.1,125.1 90.8,126.1 91.6,127.2 92.3,128.3 93.1,129.3 93.8,130.3 94.6,131.3 95.3,132.2 96.0,133.1 96.5,133.7 97.1,134.3 97.6,134.8 98.2,135.3 98.7,135.8 99.2,136.3 99.8,136.7 100.3,137.2 100.8,137.6 101.4,138.1 101.9,138.5 102.4,138.9 103.0,139.3 103.5,139.7 104.0,140.1 104.6,140.5 105.1,140.9 105.7,141.2 106.2,141.5 106.8,141.9 107.3,142.2 107.9,142.5 108.4,142.8 109.0,143.1 109.5,143.4 110.0,143.6 110.5,143.9 111.1,144.1 111.6,144.4 112.1,144.6 112.6,144.9 113.2,145.1 113.8,145.4 114.5,145.6 115.1,145.8 115.8,146.1 116.5,146.3 117.1,146.6 117.8,146.8 118.5,147.0 119.2,147.2 119.9,147.5 120.7,147.7 121.4,147.9 122.1,148.1 122.8,148.3 123.6,148.5 124.3,148.7 125.0,148.9 125.7,149.0 126.4,149.2 127.1,149.3 127.8,149.5 128.5,149.6 129.3,149.8 130.0,149.9 130.8,150.1 131.7,150.2 132.5,150.4 133.4,150.5 134.2,150.7 135.1,150.8 136.0,150.9 137.0,151.1 138.3,151.3 139.6,151.5 140.9,151.7 142.3,151.9 143.7,152.1 145.2,152.3 146.6,152.5 148.0,152.7 149.5,152.9 151.0,153.0 152.5,153.1 154.0,153.3 155.5,153.4 157.0,153.5 158.5,153.6 160.0,153.7 161.4,153.8 162.8,153.9 164.1,154.0 165.5,154.1 166.8,154.2 168.3,154.3 169.8,154.3 171.4,154.4 173.9,154.6 176.6,154.8 179.4,155.0 182.4,155.2 185.4,155.4 188.5,155.6 191.5,155.7 194.4,155.9 197.3,156.0 200.2,156.2 203.1,156.3 206.1,156.4 209.0,156.5 211.9,156.6 214.8,156.7 217.7,156.8 220.6,156.9 223.6,156.9 226.6,156.9 229.6,156.9 232.6,157.0 235.4,157.0 238.1,157.0 240.5,157.0 242.0,157.0 243.5,157.0 244.8,157.0 246.1,157.1 247.4,157.1 248.7,157.1 250.0,157.1 251.3,157.1 260.5,154.4 260.9,154.4 261.3,154.4 261.6,154.4 262.0,154.3 262.4,154.3 262.8,154.3 263.2,154.3 263.7,154.3 264.8,154.3 266.0,154.3 267.4,154.3 268.9,154.3 270.4,154.3 272.0,154.3 273.5,154.3 275.0,154.3 276.4,154.3 277.8,154.4 279.2,154.4 280.6,154.5 282.0,154.5 283.5,154.6 285.0,154.6 286.7,154.7 289.2,154.8 291.9,154.9 294.8,155.1 297.8,155.2 300.8,155.4 303.9,155.5 306.9,155.7 309.9,155.8 312.8,155.9 315.8,156.1 318.7,156.2 321.7,156.4 324.6,156.5 327.5,156.7 330.5,156.8 333.4,156.9 336.3,157.1 339.2,157.2 342.1,157.3 345.0,157.4 347.8,157.5 350.7,157.6 353.6,157.7 356.5,157.8 359.4,157.9 362.3,158.0 365.2,158.1 368.1,158.2 370.9,158.3 373.8,158.4 376.7,158.5 379.6,158.6 382.5,158.7 385.4,158.8 388.2,158.9 391.1,159.0 394.0,159.1 396.9,159.2 399.7,159.3 402.6,159.4 405.4,159.5 408.2,159.6 411.0,159.6 413.7,159.7 416.5,159.8 419.3,159.8 422.0,159.9 424.8,159.9" stroke="#008000" stroke-width="1.35"/>
<polyline points="78.4,118.4 80.1,125.9 80.6,124.6 81.0,123.1 81.4,121.6 81.9,120.0 82.3,118.7 82.8,117.5 83.3,116.7 83.9,116.4 84.6,116.6 85.3,117.3 86.1,118.3 86.9,119.6 87.7,121.1 88.5,122.5 89.3,123.9 90.1,125.1 90.8,126.1 91.6,127.2 92.3,128.3 93.1,129.3 93.8,130.3 94.6,131.3 95.3,132.2 96.0,133.1 96.5,133.7 97.1,134.3 97.6,134.8 98.2,135.3 98.7,135.8 99.2,136.3 99.8,136.7 100.3,137.2 100.8,137.6 101.4,138.1 101.9,138.5 102.4,138.9 103.0,139.3 103.5,139.7 104.0,140.1 104.6,140.5 105.1,140.9 105.7,141.2 106.2,141.5 106.8,141.9 107.3,142.2 107.9,142.5 108.4,142.8 109.0,143.1 109.5,143.4 110.0,143.6 110.5,143.9 111.1,144.1 111.6,144.4" stroke="#008000" stroke-width="1.95"/>
<polyline points="78.4,156.0 79.2,157.5 79.7,155.9 80.3,154.3 80.9,152.6 81.4,151.0 82.0,149.4 82.5,147.8 83.0,146.4 83.4,145.1 83.6,144.4 83.9,143.7 84.0,143.0 84.2,142.4 84.4,141.9 84.6,141.3 84.8,140.6 85.1,140.0 85.4,139.2 85.8,138.4 86.2,137.6 86.6,136.8 87.0,135.9 87.5,135.1 87.9,134.3 88.4,133.4 89.0,132.4 89.5,131.3 90.1,130.1 90.7,129.0 91.3,127.9 92.0,126.9 92.7,125.9 93.4,125.1 94.0,124.5 94.7,123.9 95.3,123.3 96.0,122.7 96.7,122.3 97.4,121.9 98.1,121.7 98.8,121.7 99.5,121.9 100.2,122.3 101.0,122.8 101.7,123.5 102.4,124.3 103.0,125.1 103.7,125.9 104.3,126.7 104.9,127.5 105.5,128.5 106.0,129.4 106.5,130.4 107.0,131.4 107.5,132.4 108.0,133.4 108.5,134.3 108.9,135.1 109.4,135.8 109.8,136.5 110.3,137.2 110.7,137.9 111.1,138.6 111.5,139.3 111.8,140.0 112.1,140.6 112.3,141.1 112.5,141.6 112.6,142.2 112.8,142.7 113.0,143.2 113.2,143.7 113.5,144.3 113.8,145.0 114.2,145.7 114.6,146.3 115.0,147.0 115.5,147.7 115.9,148.5 116.4,149.2 116.9,150.0 117.6,151.1 118.3,152.2 119.1,153.5 119.9,154.7 120.8,155.9 121.7,157.2 122.6,158.4 123.5,159.5 124.5,160.6 125.5,161.7 126.5,162.8 127.6,163.8 128.6,164.9 129.7,165.9 130.8,166.9 131.9,167.8 132.9,168.7 133.9,169.5 134.9,170.3 136.0,171.1 137.0,171.9 138.0,172.6 139.1,173.3 140.1,174.0 141.1,174.6 142.0,175.2 143.0,175.7 144.0,176.2 145.0,176.7 146.0,177.2 147.0,177.8 148.1,178.3 149.5,179.0 150.9,179.7 152.4,180.4 153.9,181.1 155.5,181.9 157.0,182.5 158.6,183.2 160.1,183.8 161.5,184.3 162.9,184.8 164.3,185.3 165.7,185.7 167.1,186.1 168.5,186.5 169.9,186.9 171.3,187.3 172.8,187.7 174.3,188.1 175.9,188.4 177.4,188.8 178.9,189.1 180.5,189.4 182.0,189.8 183.5,190.1 184.9,190.4 186.2,190.7 187.5,191.0 188.7,191.4 190.0,191.7 191.4,192.0 192.8,192.3 194.4,192.6 196.8,193.1 199.5,193.5 202.3,194.0 205.3,194.5 208.3,195.0 211.3,195.4 214.3,195.8 217.2,196.2 220.2,196.6 223.2,197.0 226.4,197.3 229.5,197.6 232.5,197.9 235.4,198.2 238.1,198.5 240.5,198.8 241.9,199.0 243.2,199.1 244.4,199.3 245.6,199.5 246.7,199.6 247.9,199.8 249.0,199.9 250.2,200.1 251.9,199.5 253.6,198.9 255.3,198.2 257.0,197.6 258.7,197.0 260.4,196.4 262.0,195.7 263.6,195.1 264.9,194.5 266.2,193.9 267.4,193.2 268.7,192.6 269.9,192.0 271.1,191.4 272.2,190.9 273.4,190.4 274.4,190.1 275.3,189.8 276.3,189.5 277.3,189.3 278.2,189.0 279.1,188.9 280.0,188.8 280.9,188.7 281.6,188.7 282.2,188.7 282.9,188.8 283.5,188.9 284.1,189.0 284.8,189.1 285.5,189.3 286.4,189.4 288.5,189.7 291.1,190.0 294.0,190.3 297.1,190.7 300.3,191.1 303.5,191.5 306.7,191.9 309.7,192.2 312.7,192.5 315.7,192.9 318.8,193.2 321.8,193.5 324.8,193.9 327.7,194.1 330.3,194.4 332.7,194.6 334.0,194.7 335.3,194.8 336.4,194.8 337.5,194.9 338.5,194.9 339.6,195.0 340.8,195.0 342.0,195.1 343.6,195.2 345.3,195.3 347.0,195.4 348.8,195.5 350.6,195.6 352.5,195.7 354.4,195.8 356.4,195.9 359.0,196.1 361.8,196.2 364.7,196.4 367.6,196.6 370.6,196.7 373.6,196.9 376.6,197.1 379.5,197.2 382.4,197.4 385.3,197.6 388.1,197.7 391.0,197.8 393.9,198.0 396.8,198.1 399.6,198.3 402.5,198.4 405.3,198.5 408.1,198.7 410.9,198.8 413.7,199.0 416.5,199.1 419.2,199.2 422.0,199.4 424.8,199.5" stroke="#9a9a00" stroke-width="2.3" stroke-opacity="0.55"/>
<polyline points="78.4,156.0 79.2,157.5 79.7,155.9 80.3,154.3 80.9,152.6 81.4,151.0 82.0,149.4 82.5,147.8 83.0,146.4 83.4,145.1 83.6,144.4 83.9,143.7 84.0,143.0 84.2,142.4 84.4,141.9 84.6,141.3 84.8,140.6 85.1,140.0 85.4,139.2 85.8,138.4 86.2,137.6 86.6,136.8 87.0,135.9 87.5,135.1 87.9,134.3 88.4,133.4 89.0,132.4 89.5,131.3 90.1,130.1 90.7,129.0 91.3,127.9 92.0,126.9 92.7,125.9 93.4,125.1 94.0,124.5 94.7,123.9 95.3,123.3 96.0,122.7 96.7,122.3 97.4,121.9 98.1,121.7 98.8,121.7 99.5,121.9 100.2,122.3 101.0,122.8 101.7,123.5 102.4,124.3 103.0,125.1 103.7,125.9 104.3,126.7 104.9,127.5 105.5,128.5 106.0,129.4 106.5,130.4 107.0,131.4 107.5,132.4 108.0,133.4 108.5,134.3 108.9,135.1 109.4,135.8 109.8,136.5 110.3,137.2 110.7,137.9 111.1,138.6 111.5,139.3 111.8,140.0 112.1,140.6 112.3,141.1 112.5,141.6 112.6,142.2 112.8,142.7 113.0,143.2 113.2,143.7 113.5,144.3 113.8,145.0 114.2,145.7 114.6,146.3 115.0,147.0 115.5,147.7 115.9,148.5 116.4,149.2 116.9,150.0 117.6,151.1 118.3,152.2 119.1,153.5 119.9,154.7 120.8,155.9 121.7,157.2 122.6,158.4 123.5,159.5 124.5,160.6 125.5,161.7 126.5,162.8 127.6,163.8 128.6,164.9 129.7,165.9 130.8,166.9 131.9,167.8 132.9,168.7 133.9,169.5 134.9,170.3 136.0,171.1 137.0,171.9 138.0,172.6 139.1,173.3 140.1,174.0 141.1,174.6 142.0,175.2 143.0,175.7 144.0,176.2 145.0,176.7 146.0,177.2 147.0,177.8 148.1,178.3 149.5,179.0 150.9,179.7 152.4,180.4 153.9,181.1 155.5,181.9 157.0,182.5 158.6,183.2 160.1,183.8 161.5,184.3 162.9,184.8 164.3,185.3 165.7,185.7 167.1,186.1 168.5,186.5 169.9,186.9 171.3,187.3 172.8,187.7 174.3,188.1 175.9,188.4 177.4,188.8 178.9,189.1 180.5,189.4 182.0,189.8 183.5,190.1 184.9,190.4 186.2,190.7 187.5,191.0 188.7,191.4 190.0,191.7 191.4,192.0 192.8,192.3 194.4,192.6 196.8,193.1 199.5,193.5 202.3,194.0 205.3,194.5 208.3,195.0 211.3,195.4 214.3,195.8 217.2,196.2 220.2,196.6 223.2,197.0 226.4,197.3 229.5,197.6 232.5,197.9 235.4,198.2 238.1,198.5 240.5,198.8 241.9,199.0 243.2,199.1 244.4,199.3 245.6,199.5 246.7,199.6 247.9,199.8 249.0,199.9 250.2,200.1 251.9,199.5 253.6,198.9 255.3,198.2 257.0,197.6 258.7,197.0 260.4,196.4 262.0,195.7 263.6,195.1 264.9,194.5 266.2,193.9 267.4,193.2 268.7,192.6 269.9,192.0 271.1,191.4 272.2,190.9 273.4,190.4 274.4,190.1 275.3,189.8 276.3,189.5 277.3,189.3 278.2,189.0 279.1,188.9 280.0,188.8 280.9,188.7 281.6,188.7 282.2,188.7 282.9,188.8 283.5,188.9 284.1,189.0 284.8,189.1 285.5,189.3 286.4,189.4 288.5,189.7 291.1,190.0 294.0,190.3 297.1,190.7 300.3,191.1 303.5,191.5 306.7,191.9 309.7,192.2 312.7,192.5 315.7,192.9 318.8,193.2 321.8,193.5 324.8,193.9 327.7,194.1 330.3,194.4 332.7,194.6 334.0,194.7 335.3,194.8 336.4,194.8 337.5,194.9 338.5,194.9 339.6,195.0 340.8,195.0 342.0,195.1 343.6,195.2 345.3,195.3 347.0,195.4 348.8,195.5 350.6,195.6 352.5,195.7 354.4,195.8 356.4,195.9 359.0,196.1 361.8,196.2 364.7,196.4 367.6,196.6 370.6,196.7 373.6,196.9 376.6,197.1 379.5,197.2 382.4,197.4 385.3,197.6 388.1,197.7 391.0,197.8 393.9,198.0 396.8,198.1 399.6,198.3 402.5,198.4 405.3,198.5 408.1,198.7 410.9,198.8 413.7,199.0 416.5,199.1 419.2,199.2 422.0,199.4 424.8,199.5" stroke="#fbfb00" stroke-width="1.35"/>
<polyline points="78.4,156.0 79.2,157.5 79.7,155.9 80.3,154.3 80.9,152.6 81.4,151.0 82.0,149.4 82.5,147.8 83.0,146.4 83.4,145.1 83.6,144.4 83.9,143.7 84.0,143.0 84.2,142.4 84.4,141.9 84.6,141.3 84.8,140.6 85.1,140.0 85.4,139.2 85.8,138.4 86.2,137.6 86.6,136.8 87.0,135.9 87.5,135.1 87.9,134.3 88.4,133.4 89.0,132.4 89.5,131.3 90.1,130.1 90.7,129.0 91.3,127.9 92.0,126.9 92.7,125.9 93.4,125.1 94.0,124.5 94.7,123.9 95.3,123.3 96.0,122.7 96.7,122.3 97.4,121.9 98.1,121.7 98.8,121.7 99.5,121.9 100.2,122.3 101.0,122.8 101.7,123.5 102.4,124.3 103.0,125.1 103.7,125.9 104.3,126.7 104.9,127.5 105.5,128.5 106.0,129.4 106.5,130.4 107.0,131.4 107.5,132.4 108.0,133.4 108.5,134.3 108.9,135.1 109.4,135.8 109.8,136.5 110.3,137.2 110.7,137.9 111.1,138.6 111.5,139.3 111.8,140.0 112.1,140.6 112.3,141.1 112.5,141.6 112.6,142.2 112.8,142.7 113.0,143.2 113.2,143.7 113.5,144.3 113.8,145.0 114.2,145.7 114.6,146.3 115.0,147.0 115.5,147.7 115.9,148.5 116.4,149.2 116.9,150.0 117.6,151.1 118.3,152.2 119.1,153.5 119.9,154.7 120.8,155.9 121.7,157.2 122.6,158.4 123.5,159.5 124.5,160.6 125.5,161.7 126.5,162.8 127.6,163.8 128.6,164.9 129.7,165.9 130.8,166.9 131.9,167.8 132.9,168.7 133.9,169.5 134.9,170.3 136.0,171.1 137.0,171.9 138.0,172.6 139.1,173.3 140.1,174.0 141.1,174.6 142.0,175.2 143.0,175.7 144.0,176.2 145.0,176.7 146.0,177.2 147.0,177.8 148.1,178.3 149.5,179.0 150.9,179.7 152.4,180.4 153.9,181.1 155.5,181.9 157.0,182.5 158.6,183.2 160.1,183.8 161.5,184.3 162.9,184.8 164.3,185.3 165.7,185.7 167.1,186.1 168.5,186.5 169.9,186.9 171.3,187.3 172.8,187.7 174.3,188.1 175.9,188.4 177.4,188.8 178.9,189.1 180.5,189.4 182.0,189.8 183.5,190.1 184.9,190.4 186.2,190.7 187.5,191.0 188.7,191.4 190.0,191.7 191.4,192.0 192.8,192.3 194.4,192.6 196.8,193.1 199.5,193.5 202.3,194.0 205.3,194.5 208.3,195.0 211.3,195.4 214.3,195.8 217.2,196.2 220.2,196.6 223.2,197.0 226.4,197.3 229.5,197.6 232.5,197.9 235.4,198.2 238.1,198.5 240.5,198.8 241.9,199.0 243.2,199.1 244.4,199.3 245.6,199.5 246.7,199.6 247.9,199.8 249.0,199.9 250.2,200.1 251.9,199.5 253.6,198.9 255.3,198.2 257.0,197.6 258.7,197.0 260.4,196.4 262.0,195.7 263.6,195.1 264.9,194.5 266.2,193.9 267.4,193.2 268.7,192.6 269.9,192.0 271.1,191.4 272.2,190.9 273.4,190.4 274.4,190.1 275.3,189.8 276.3,189.5 277.3,189.3 278.2,189.0 279.1,188.9 280.0,188.8 280.9,188.7 281.6,188.7 282.2,188.7 282.9,188.8 283.5,188.9 284.1,189.0 284.8,189.1 285.5,189.3 286.4,189.4 288.5,189.7 291.1,190.0 294.0,190.3 297.1,190.7 300.3,191.1 303.5,191.5 306.7,191.9 309.7,192.2 312.7,192.5 315.7,192.9 318.8,193.2 321.8,193.5 324.8,193.9 327.7,194.1 330.3,194.4 332.7,194.6 334.0,194.7 335.3,194.8 336.4,194.8 337.5,194.9 338.5,194.9 339.6,195.0 340.8,195.0 342.0,195.1 343.6,195.2 345.3,195.3 347.0,195.4 348.8,195.5 350.6,195.6 352.5,195.7 354.4,195.8 356.4,195.9 359.0,196.1 361.8,196.2 364.7,196.4 367.6,196.6 370.6,196.7 373.6,196.9 376.6,197.1 379.5,197.2 382.4,197.4 385.3,197.6 388.1,197.7 391.0,197.8 393.9,198.0 396.8,198.1 399.6,198.3 402.5,198.4 405.3,198.5 408.1,198.7 410.9,198.8 413.7,199.0 416.5,199.1 419.2,199.2 422.0,199.4 424.8,199.5" stroke="#8c8c20" stroke-width="1.35" stroke-dasharray="1.5 2.6" stroke-opacity="0.12"/>
</g>
<path d="M61.42 29.07 V214.48000000000002 M441.47 29.07 V214.48000000000002" fill="none" stroke="#000" stroke-width="0.85"/>
<path d="M61.0 29.4 H441.89000000000004 M61.0 214.15 H441.89000000000004" fill="none" stroke="#000" stroke-width="0.68"/>
<path d="M78.33 214.15 v2.9 M101.51 214.15 v2.9 M124.69 214.15 v2.9 M147.86 214.15 v2.9 M171.04 214.15 v2.9 M194.22 214.15 v2.9 M217.40 214.15 v2.9 M240.58 214.15 v2.9 M263.75 214.15 v2.9 M286.93 214.15 v2.9 M310.11 214.15 v2.9 M333.29 214.15 v2.9 M356.47 214.15 v2.9 M379.64 214.15 v2.9 M402.82 214.15 v2.9" stroke="#000" stroke-width="0.85" fill="none"/>
<path d="M61.42 214.15 h-3.5 M61.42 187.74 h-3.5 M61.42 161.32 h-3.5 M61.42 134.91 h-3.5 M61.42 108.49 h-3.5 M61.42 82.08 h-3.5 M61.42 55.66 h-3.5 M61.42 29.25 h-3.5" stroke="#000" stroke-width="0.68" fill="none"/>
<g font-family="Liberation Sans, sans-serif" font-size="9.1" fill="#000" stroke="#000" stroke-width="0.13" filter="url(#gs)" text-rendering="geometricPrecision">
<text font-size="9.1" transform="translate(75.39,225.85) scale(1.233,1)">0</text>
<text font-size="9.1" transform="translate(95.22,225.85) scale(1.285,1)">20</text>
<text font-size="9.1" transform="translate(118.76,225.85) scale(1.249,1)">40</text>
<text font-size="9.1" transform="translate(141.58,225.85) scale(1.285,1)">60</text>
<text font-size="9.1" transform="translate(164.88,225.85) scale(1.273,1)">80</text>
<text font-size="9.1" transform="translate(184.57,225.85) scale(1.263,1)">100</text>
<text font-size="9.1" transform="translate(207.74,225.85) scale(1.263,1)">120</text>
<text font-size="9.1" transform="translate(230.92,225.85) scale(1.263,1)">140</text>
<text font-size="9.1" transform="translate(254.10,225.85) scale(1.263,1)">160</text>
<text font-size="9.1" transform="translate(277.28,225.85) scale(1.263,1)">180</text>
<text font-size="9.1" transform="translate(300.07,225.85) scale(1.288,1)">200</text>
<text font-size="9.1" transform="translate(323.25,225.85) scale(1.288,1)">220</text>
<text font-size="9.1" transform="translate(346.43,225.85) scale(1.288,1)">240</text>
<text font-size="9.1" transform="translate(369.61,225.85) scale(1.288,1)">260</text>
<text font-size="9.1" transform="translate(392.79,225.85) scale(1.288,1)">280</text>
<text font-size="9.1" transform="translate(39.25,217.50) scale(1.291,1)">0.0</text>
<text font-size="9.1" transform="translate(39.25,191.09) scale(1.291,1)">0.5</text>
<text font-size="9.1" transform="translate(38.75,164.67) scale(1.331,1)">1.0</text>
<text font-size="9.1" transform="translate(38.75,138.25) scale(1.331,1)">1.5</text>
<text font-size="9.1" transform="translate(39.00,111.84) scale(1.310,1)">2.0</text>
<text font-size="9.1" transform="translate(39.00,85.43) scale(1.310,1)">2.5</text>
<text font-size="9.1" transform="translate(39.25,59.01) scale(1.291,1)">3.0</text>
<text font-size="9.1" transform="translate(39.25,32.60) scale(1.291,1)">3.5</text>
<text font-size="9.1" transform="translate(248.05,235.90) scale(1.173,1)" font-style="italic">T</text>
<text font-size="8.6" transform="translate(32.5,122.4) rotate(-90) scale(1.05,1.2)" text-anchor="middle"><tspan font-style="italic">R</tspan><tspan font-size="5.6" dy="1.6" font-style="italic">π</tspan><tspan dy="-1.6">(</tspan><tspan font-style="italic">T</tspan>)</text>
</g>
<rect x="288.4" y="33.1" width="148" height="74.4" rx="1.6" ry="1.6" fill="#fff" fill-opacity="0.8" stroke="#cccccc" stroke-width="0.85"/>
<path d="M291.4 40.00 H313.1" stroke="#0000ff" stroke-width="1.4" stroke-opacity="0.8"/>
<path d="M291.4 51.93 H313.1" stroke="#000000" stroke-width="1.4" stroke-opacity="0.8"/>
<path d="M291.4 63.86 H313.1" stroke="#ff0000" stroke-width="1.4" stroke-opacity="0.8"/>
<path d="M291.4 75.79 H313.1" stroke="#00ffff" stroke-width="1.4" stroke-opacity="0.8"/>
<path d="M291.4 87.72 H313.1" stroke="#ffff00" stroke-width="1.4" stroke-opacity="0.8"/>
<path d="M291.4 99.65 H313.1" stroke="#008000" stroke-width="1.4" stroke-opacity="0.8"/>
<g font-family="Liberation Sans, sans-serif" font-size="9.1" fill="#000" stroke="#000" stroke-width="0.13" filter="url(#gs)" text-rendering="geometricPrecision">
<text font-size="9.1" transform="translate(320.69,43.10) scale(1.114,1)">GP-UCB-CP</text>
<text font-size="9.1" transform="translate(320.66,55.03) scale(1.179,1)">Genie-SS</text>
<text font-size="9.1" transform="translate(321.20,66.96) scale(1.246,1)">Adaptive-SafeOpt</text>
<text font-size="9.1" transform="translate(320.30,78.89) scale(1.238,1)">FixedWindow-SafeOpt</text>
<text font-size="9.1" transform="translate(320.68,90.82) scale(1.138,1)">Genie-CP-SS</text>
<text font-size="9.1" transform="translate(320.66,102.75) scale(1.180,1)">Genie-CP</text>
</g>
</svg></body></html>
